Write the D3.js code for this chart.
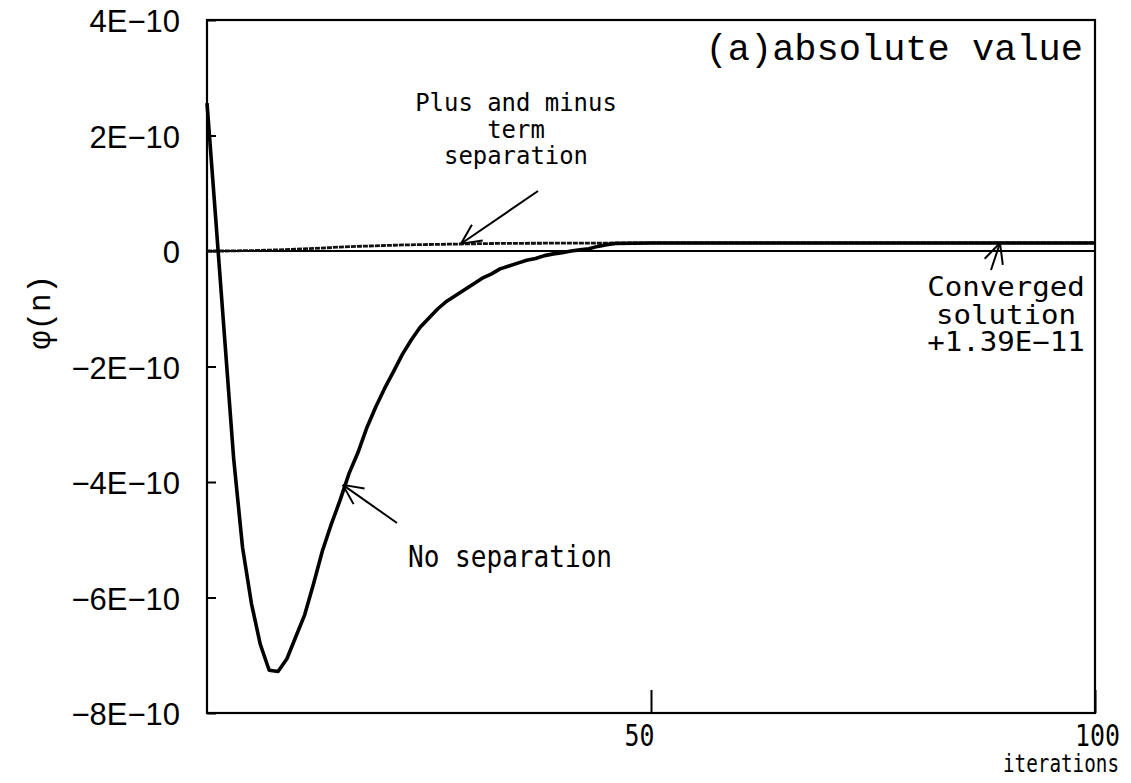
<!DOCTYPE html>
<html>
<head>
<meta charset="utf-8">
<script src="https://cdn.jsdelivr.net/npm/d3@7"></script>
<style>
  html, body { margin: 0; padding: 0; background: #fff; }
  svg { display: block; }
</style>
</head>
<body>
<svg id="chart" width="1131" height="783"></svg>
<script>
// Iteration history of phi(n) for the two evaluation schemes
const noSepIter = [0,1,2,3,4,5,6,7,8,9,10,11,12,13,14,15,16,17,18,19,20,21,22,23,24,25,26,27,28,29,30,
  31,32,33,34,35,36,37,38,39,40,41,42,43,44,45,46,50,60,70,80,90,100];
const noSepValue = [2.56e-10,0.52e-10,-1.54e-10,-3.59e-10,-5.13e-10,-6.10e-10,-6.81e-10,-7.26e-10,-7.28e-10,
  -7.06e-10,-6.68e-10,-6.30e-10,-5.76e-10,-5.19e-10,-4.73e-10,-4.31e-10,-3.85e-10,-3.49e-10,-3.06e-10,
  -2.70e-10,-2.38e-10,-2.09e-10,-1.79e-10,-1.54e-10,-1.32e-10,-1.16e-10,-1.00e-10,-0.87e-10,-0.77e-10,
  -0.67e-10,-0.57e-10,-0.47e-10,-0.40e-10,-0.31e-10,-0.26e-10,-0.21e-10,-0.16e-10,-0.13e-10,-0.08e-10,
  -0.05e-10,-0.03e-10,0.00e-10,0.02e-10,0.04e-10,0.08e-10,0.11e-10,0.13e-10,
  0.139e-10,0.139e-10,0.139e-10,0.139e-10,0.139e-10,0.139e-10];

const pmIter = [0,2,4,6,8,10,12,14,16,18,20,22,24,26,28,30,32,35,40,45,50,60,70,80,90,100];
const pmValue = [0,0,0.005e-10,0.01e-10,0.02e-10,0.03e-10,0.045e-10,0.06e-10,0.075e-10,0.085e-10,
  0.095e-10,0.105e-10,0.11e-10,0.115e-10,0.12e-10,0.125e-10,0.13e-10,0.133e-10,0.136e-10,0.138e-10,
  0.139e-10,0.139e-10,0.139e-10,0.139e-10,0.139e-10,0.139e-10];

const convergedValue = 1.39e-11;

const yTicks = [4e-10, 2e-10, 0, -2e-10, -4e-10, -6e-10, -8e-10];
const yTickLabels = ["4E\u221210", "2E\u221210", "0", "\u22122E\u221210", "\u22124E\u221210", "\u22126E\u221210", "\u22128E\u221210"];
const xTicks = [50, 100];
const xTickLabels = ["50", "100"];

const svg = d3.select("#chart");
const W = 1131, H = 783;
const plot = { left: 207, right: 1095, top: 20, bottom: 713 };

const x = d3.scaleLinear().domain([0, 100]).range([plot.left, plot.right]);
const y = d3.scaleLinear().domain([-8e-10, 4e-10]).range([plot.bottom, plot.top]);

svg.append("rect").attr("width", W).attr("height", H).attr("fill", "#fff");

const gothic = "'DejaVu Sans Mono', monospace";
const courier = "'Liberation Mono', 'Courier New', monospace";

// y axis
const yAxis = d3.axisLeft(y)
  .tickValues(yTicks)
  .tickFormat((d, i) => yTickLabels[i])
  .tickSize(-9)
  .tickPadding(27);
const gy = svg.append("g").attr("transform", `translate(${plot.left},0)`).call(yAxis);
gy.select(".domain").remove();
gy.selectAll(".tick line").attr("stroke", "#000").attr("stroke-width", 2);
gy.selectAll(".tick text")
  .attr("font-family", "'Liberation Sans', Arial, sans-serif")
  .attr("font-size", 31)
  .attr("fill", "#000")
  .attr("dy", "0.38em");

// x axis
const xAxis = d3.axisBottom(x)
  .tickValues(xTicks)
  .tickFormat((d, i) => xTickLabels[i])
  .tickSize(-23)
  .tickPadding(12);
const gx = svg.append("g").attr("transform", `translate(0,${plot.bottom})`).call(xAxis);
gx.select(".domain").remove();
gx.selectAll(".tick line").attr("stroke", "#000").attr("stroke-width", 2);
gx.selectAll(".tick text")
  .attr("font-family", gothic)
  .attr("font-size", 30)
  .attr("fill", "#000")
  .attr("dx", (d, i) => i === 0 ? -12 : 2)
  .attr("textLength", (d, i) => xTickLabels[i].length * 15)
  .attr("lengthAdjust", "spacingAndGlyphs");

svg.append("text")
  .attr("x", 1119).attr("y", 772)
  .attr("text-anchor", "end")
  .attr("font-family", gothic)
  .attr("font-size", 25)
  .attr("textLength", 116)
  .attr("lengthAdjust", "spacingAndGlyphs")
  .text("iterations");

// y axis title
svg.append("text")
  .attr("transform", "translate(50,312) rotate(-90)")
  .attr("text-anchor", "middle")
  .attr("font-family", courier)
  .attr("font-size", 31)
  .text("\u03c6(n)");

// frame
svg.append("rect")
  .attr("x", plot.left).attr("y", plot.top)
  .attr("width", plot.right - plot.left).attr("height", plot.bottom - plot.top)
  .attr("fill", "none").attr("stroke", "#000").attr("stroke-width", 2.2);

// zero reference line
svg.append("line")
  .attr("x1", x(0)).attr("x2", x(100))
  .attr("y1", y(0)).attr("y2", y(0))
  .attr("stroke", "#000").attr("stroke-width", 2);

const line = d3.line().x(d => x(d[0])).y(d => y(d[1]));

// plus and minus term separation
svg.append("path")
  .datum(pmIter.map((t, i) => [t, pmValue[i]]))
  .attr("d", line)
  .attr("fill", "none")
  .attr("stroke", "#111")
  .attr("stroke-width", 2.8)
  .attr("stroke-dasharray", "5,1");

// no separation
svg.append("path")
  .datum(noSepIter.map((t, i) => [t, noSepValue[i]]))
  .attr("d", line)
  .attr("fill", "none")
  .attr("stroke", "#000")
  .attr("stroke-width", 3.6)
  .attr("stroke-linejoin", "round");

// panel title
svg.append("text")
  .attr("x", 1083).attr("y", 60)
  .attr("text-anchor", "end")
  .attr("font-family", courier)
  .attr("font-size", 37)
  .text("(a)absolute value");

// annotations: text block + arrow pointing at a curve location
const annotations = [
  { lines: ["Plus and minus", "term", "separation"], cx: 516, y0: 111, dy: 26.5, size: 25, charW: 14.4,
    tip: [28.6, 0.125e-10], tail: [538, 191] },
  { lines: ["Converged", "solution", "+1.39E\u221211"], cx: 1006, y0: 296, dy: 27.5, size: 26, charW: 17.5,
    tip: [89.3, convergedValue], tail: [991, 270] },
  { lines: ["No separation"], cx: 510, y0: 567, dy: 0, size: 30, charW: 15.7,
    tip: [15.3, -4.05e-10], tail: [397, 523] }
];

annotations.forEach(a => {
  a.lines.forEach((s, i) => {
    svg.append("text")
      .attr("x", a.cx).attr("y", a.y0 + i * a.dy)
      .attr("text-anchor", "middle")
      .attr("font-family", gothic)
      .attr("font-size", a.size)
      .attr("textLength", s.length * a.charW)
      .attr("lengthAdjust", "spacingAndGlyphs")
      .text(s);
  });
  const tx = x(a.tip[0]), ty = y(a.tip[1]);
  const [sx, sy] = a.tail;
  svg.append("line")
    .attr("x1", sx).attr("y1", sy).attr("x2", tx).attr("y2", ty)
    .attr("stroke", "#000").attr("stroke-width", 2);
  // open arrow head
  const ang = Math.atan2(ty - sy, tx - sx);
  const len = 22, spread = 0.45;
  [ang + Math.PI - spread, ang + Math.PI + spread].forEach(b => {
    svg.append("line")
      .attr("x1", tx).attr("y1", ty)
      .attr("x2", tx + len * Math.cos(b)).attr("y2", ty + len * Math.sin(b))
      .attr("stroke", "#000").attr("stroke-width", 2);
  });
});
</script>
</body>
</html>
